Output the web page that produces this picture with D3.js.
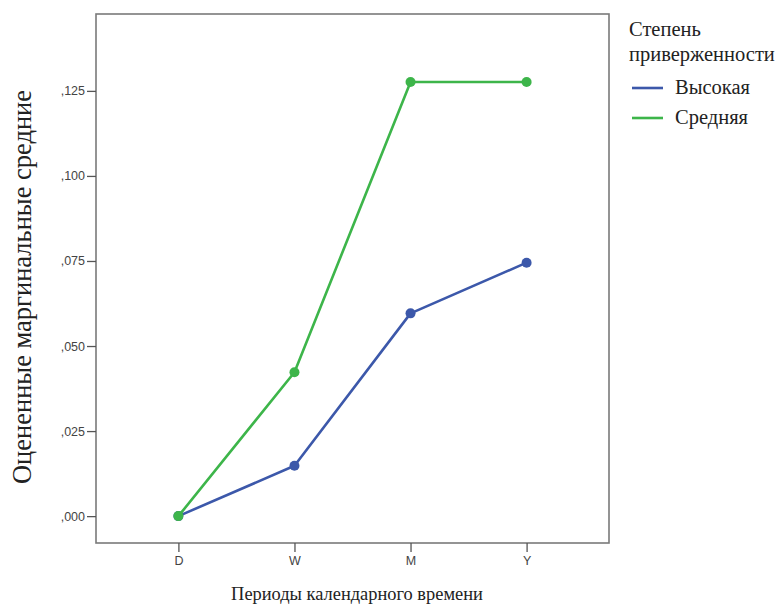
<!DOCTYPE html>
<html><head><meta charset="utf-8">
<script src="https://cdn.jsdelivr.net/npm/d3@7"></script>
<style>body{margin:0;background:#fff}svg{display:block}.serif{font-family:"Liberation Serif","Times New Roman","DejaVu Serif",serif}.sans{font-family:"Liberation Sans",Arial,sans-serif}</style>
</head><body><svg id="c" width="782" height="606"></svg>
<script>
const categories = ["D","W","M","Y"];
const seriesNames = ["Высокая","Средняя"];
const highValues = [0.000, 0.0148, 0.0596, 0.0745];
const mediumValues = [0.000, 0.0423, 0.1276, 0.1276];
const yTicks = [0, 0.025, 0.05, 0.075, 0.1, 0.125];
const yTickLabels = [",000",",025",",050",",075",",100",",125"];
const colors = ["#3c58aa","#3db54a"];
const legendTitle = ["Степень","приверженности"];
const xTitle = "Периоды календарного времени";
const yTitle = "Оцененные маргинальные средние";

const svg = d3.select("#c");
const L=96, R=609, T=14, B=543;
const x = d3.scalePoint().domain(categories).range([L,R]).padding(0.71);
const y = d3.scaleLinear().domain([-0.0079,0.1476]).range([B,T]);
const frame="#7a7a7a";

svg.append("rect").attr("x",L).attr("y",T).attr("width",R-L).attr("height",B-T)
  .attr("fill","#fff").attr("stroke",frame).attr("stroke-width",1.6);

const yAxis = svg.append("g").attr("transform",`translate(${L},0)`)
  .call(d3.axisLeft(y).tickValues(yTicks).tickFormat((d,i)=>yTickLabels[i]).tickSize(9).tickPadding(2));
const xAxis = svg.append("g").attr("transform",`translate(0,${B})`)
  .call(d3.axisBottom(x).tickSize(9).tickPadding(4));
[yAxis,xAxis].forEach(g=>{
  g.attr("font-family",null);
  g.select(".domain").remove();
  g.selectAll(".tick line").attr("stroke","#555").attr("stroke-width",1.3);
  g.selectAll(".tick text").attr("class","sans").attr("fill","#444").attr("font-size",12.5);
});

const data=[highValues,mediumValues];
const line=d3.line().x((d,i)=>x(categories[i])).y(d=>y(d));
[0,1].forEach(s=>{
  svg.append("path").datum(data[s]).attr("d",line).attr("fill","none")
    .attr("stroke",colors[s]).attr("stroke-width",2.6).attr("stroke-linejoin","round");
  svg.selectAll(null).data(data[s]).enter().append("circle")
    .attr("cx",(d,i)=>x(categories[i])).attr("cy",d=>y(d)).attr("r",5).attr("fill",colors[s]);
});

svg.append("text").attr("class","serif").attr("transform",`translate(31,${(87+487)/2}) rotate(-90)`)
  .attr("text-anchor","middle").attr("font-size",26.5).attr("fill","#222").text(yTitle);
svg.append("text").attr("class","serif").attr("x",357).attr("y",600).attr("text-anchor","middle")
  .attr("font-size",18.4).attr("fill","#222").text(xTitle);

const lg=svg.append("g").attr("class","serif").attr("font-size",20.5).attr("fill","#222");
legendTitle.forEach((t,i)=>lg.append("text").attr("x",629).attr("y",36+i*25).text(t));
seriesNames.forEach((n,i)=>{
  const yy=88+i*30;
  lg.append("line").attr("x1",632).attr("x2",663).attr("y1",yy).attr("y2",yy).attr("stroke",colors[i]).attr("stroke-width",2.6);
  lg.append("text").attr("x",675).attr("y",yy+6).text(n);
});
</script></body></html>
